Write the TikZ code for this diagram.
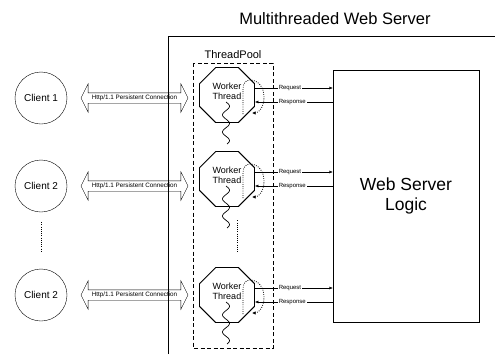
\documentclass[tikz,border=0pt]{standalone}
\usepackage{fontspec}
\setmainfont{Liberation Sans}
\usetikzlibrary{shapes.geometric, shapes.arrows, arrows.meta}

\tikzset{
  client/.style={circle, draw, thin, minimum size=52pt, inner sep=0pt, font=\fontsize{10}{12}\selectfont},
  conn/.style={double arrow, draw, thin, minimum height=107pt, double arrow head extend=9pt, double arrow tip angle=127, inner xsep=1pt, inner ysep=1.9pt, text height=4.9pt, text depth=1.3pt, font=\fontsize{6.3}{7}\selectfont},
  worker/.style={regular polygon, regular polygon sides=8, draw, line width=0.9pt, minimum size=59.5pt, inner sep=0pt},
  wlabel/.style={align=center, font=\fontsize{9}{10}\selectfont, yshift=4pt},
  msg/.style={fill=white, inner sep=0.8pt, font=\fontsize{6}{7}\selectfont},
  msgline/.style={-{Latex[length=3.5pt,width=3pt]}, thin},
  dots/.style={line width=0.8pt, dash pattern=on 0.8pt off 1.4pt},
  wloop/.style={dots, -{Latex[length=3.5pt,width=3.5pt]}},
}

\begin{document}
\begin{tikzpicture}[x=1pt, y=-1pt]
\useasboundingbox (0,0) rectangle (495,354);

% clients and their connections
\foreach \n/\c/\t in {1/98/1, 2/186/2, 3/295/2}{
  \node[client] (c\n) at (41,\c) {Client \t};
  \node[conn] (h\n) at (134.5,\c) {Http/1.1 Persistent Connection};
}
\draw[dots] ([yshift=-10pt]c2.south) -- ([yshift=16pt]c3.north);

% server boundary
\draw[line width=1pt] (168,354) -- (168,36) -- (495,36);
\node[anchor=base, font=\fontsize{16.5}{18}\selectfont] (title) at (335,24) {Multithreaded Web Server};

% thread pool
\draw[dash pattern=on 4pt off 2.5pt, thin] (193,63) rectangle (273,348);
\node[anchor=base, font=\fontsize{11}{12}\selectfont] (pool) at (233,58) {ThreadPool};

% web server logic
\node[draw, thin, minimum width=146pt, minimum height=252pt, align=center, font=\fontsize{17.5}{20}\selectfont] (logic) at (406,196) {Web Server\\Logic};

% worker threads
\foreach \n/\c in {1/95, 2/179, 3/295}{
  \node[worker, label={[wlabel]center:Worker\\Thread}] (w\n) at (227,\c) {};
  \draw[line width=0.7pt] plot[domain=0:42, samples=50, smooth] ({226+3.5*sin(\x*21)},{\c+7+\x});
  \draw[wloop] (243,\c+19) -- (243,\c-6) .. controls (243,\c-12) and (246,\c-15) .. (250,\c-15)
    .. controls (258,\c-15) and (264,\c-8) .. (264,\c+2) .. controls (264,\c+12) and (259,\c+18) .. (252,\c+18);
  \draw[msgline] ([yshift=7pt]w\n.east) -- ([yshift=7pt]w\n.east -| logic.west) node[pos=0.45, msg] {Request};
  \draw[msgline] ([yshift=-7pt]w\n.east -| logic.west) -- ([yshift=-7pt]w\n.east) node[pos=0.52, msg] {Response};
}
\draw[dots] ([xshift=10pt,yshift=-13.5pt]w2.south) -- ([xshift=10pt,yshift=15.5pt]w3.north);

\end{tikzpicture}
\end{document}
